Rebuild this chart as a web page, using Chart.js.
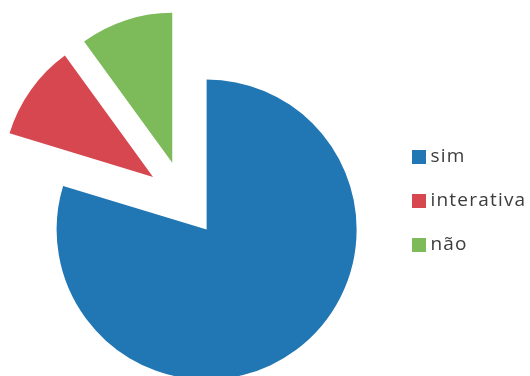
<!DOCTYPE html>
<html>
<head>
<meta charset="utf-8">
<script src="https://cdn.jsdelivr.net/npm/chart.js@4/dist/chart.umd.min.js"></script>
<style>
  html, body { margin: 0; padding: 0; background: #ffffff; overflow: hidden; }
  /* the drawing surface starts a little left of the page edge so the
     exploded slices have room on that side */
  canvas { display: block; margin-left: -24px; }
</style>
</head>
<body>
<canvas id="chart" width="554" height="376"></canvas>
<script>
// Answer shares (percent of responses)
const categories = ['sim', 'interativa', 'não'];
const shares = [79.7, 10.3, 10.0];
const sliceColors = ['#2176b4', '#d7474f', '#7dba5a'];

// Every slice is pulled out from the centre by this many pixels
const EXPLODE = 38;

// Draws each arc shifted outward along its own bisector
const explodedSlices = {
  id: 'explodedSlices',
  beforeDatasetDraw(chart, args) {
    const ctx = chart.ctx;
    args.meta.data.forEach(arc => {
      const mid = (arc.startAngle + arc.endAngle) / 2;
      ctx.save();
      ctx.translate(Math.cos(mid) * EXPLODE, Math.sin(mid) * EXPLODE);
      arc.draw(ctx);
      ctx.restore();
    });
    return false;
  }
};

// Slightly open tracking for the legend text
const trackedText = {
  id: 'trackedText',
  beforeLayout(chart) {
    chart.ctx.letterSpacing = '1.2px';
  }
};

const TEXT_COLOR = '#3c3c3c';

new Chart(document.getElementById('chart'), {
  type: 'pie',
  data: {
    labels: categories,
    datasets: [{
      data: shares,
      backgroundColor: sliceColors,
      borderWidth: 0,
      radius: 150
    }]
  },
  plugins: [trackedText, explodedSlices],
  options: {
    responsive: false,
    animation: false,
    events: [],
    layout: { padding: { left: 0, right: 0, top: 118.5, bottom: 96.5 } },
    plugins: {
      tooltip: { enabled: false },
      legend: {
        position: 'right',
        align: 'end',
        maxWidth: 138,
        labels: {
          boxWidth: 4,
          boxHeight: 4,
          padding: 25,
          color: TEXT_COLOR,
          font: { family: "'Open Sans', sans-serif", size: 19 },
          generateLabels(chart) {
            const ds = chart.data.datasets[0];
            return chart.data.labels.map((text, i) => ({
              text,
              fillStyle: ds.backgroundColor[i],
              strokeStyle: ds.backgroundColor[i],
              lineWidth: 10,
              fontColor: TEXT_COLOR,
              hidden: false,
              index: i
            }));
          }
        }
      }
    }
  }
});
</script>
</body>
</html>
